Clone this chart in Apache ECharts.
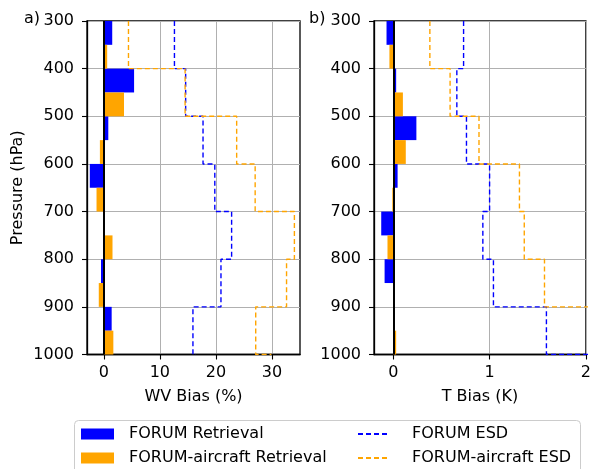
<!DOCTYPE html>
<html>
<head>
<meta charset="utf-8">
<script src="https://cdn.jsdelivr.net/npm/echarts@6/dist/echarts.min.js"></script>
<style>
html,body{margin:0;padding:0;background:#fff;}
#chart{width:594px;height:469px;}
</style>
</head>
<body>
<div id="chart"></div>
<script>
// Pressure levels (hPa): layer boundaries
const levels = [300, 400, 500, 600, 700, 800, 900, 1000];
const pressureTicks = [300, 400, 500, 600, 700, 800, 900, 1000];

// Panel a) water vapour bias (%) per 100 hPa layer
const wvForumBias    = [1.5, 5.4, 0.8, -2.5, 0.0, -0.5, 1.4];
const wvAircraftBias = [0.6, 3.6, -0.7, -1.3, 1.55, -0.9, 1.7];
const wvForumESD     = [12.6, 14.6, 17.7, 19.8, 22.8, 20.9, 15.9];
const wvForumESDBottom = 16.4;
const wvAircraftESD  = [4.4, 14.5, 23.7, 27.0, 34.0, 32.6, 27.1];
const wvAircraftESDBottom = 29.9;
const wvTicks = [0, 10, 20, 30];

// Panel b) temperature bias (K) per 100 hPa layer
const tForumBias    = [-0.07, 0.03, 0.24, 0.045, -0.125, -0.09, 0.0];
const tAircraftBias = [-0.04, 0.10, 0.13, -0.01, -0.06, 0.0, 0.03];
const tForumESD     = [0.73, 0.66, 0.76, 1.00, 0.93, 1.04, 1.59];
const tForumESDBottom = 2.1;
const tAircraftESD  = [0.38, 0.59, 0.89, 1.31, 1.36, 1.57, 2.2];
const tAircraftESDBottom = 2.2;
const tTicks = [0, 1, 2];

const FONT = 'DejaVu Sans';
const BLUE = '#0000ff';
const ORANGE = '#ffa500';

function barData(vals, upper) {
  return vals.map((v, i) => {
    const top = levels[i], bot = levels[i + 1], mid = (top + bot) / 2;
    return upper ? [v, top, mid] : [v, mid, bot];
  });
}
function stepData(vals, bottomVal) {
  const pts = [];
  vals.forEach((v, i) => { pts.push([v, levels[i]]); pts.push([v, levels[i + 1]]); });
  pts.push([bottomVal, levels[levels.length - 1]]);
  return pts;
}
function renderBar(params, api) {
  const v = api.value(0), p1 = api.value(1), p2 = api.value(2);
  const a = api.coord([0, p1]);
  const b = api.coord([v, p2]);
  const cs = params.coordSys;
  const shape = echarts.graphic.clipRectByRect({
    x: Math.min(a[0], b[0]), y: Math.min(a[1], b[1]),
    width: Math.abs(b[0] - a[0]), height: Math.abs(b[1] - a[1])
  }, {x: cs.x, y: cs.y, width: cs.width, height: cs.height});
  return shape && { type: 'rect', shape: shape, style: api.style() };
}

function xAxisCfg(idx, min, max, ticks, name) {
  return {
    type: 'value', gridIndex: idx, min: min, max: max,
    name: name, nameLocation: 'middle', nameGap: 34,
    nameTextStyle: {fontFamily: FONT, fontSize: 16, color: '#000'},
    axisLine: {show: true, onZero: false, lineStyle: {color: '#000', width: 1.3}},
    axisTick: {show: true, length: 5, customValues: ticks, lineStyle: {color: '#000', width: 1.1}},
    axisLabel: {customValues: ticks, margin: 10, fontFamily: FONT, fontSize: 16, color: '#000'},
    splitLine: {show: true, lineStyle: {color: '#b0b0b0', width: 1}}
  };
}
function yAxisCfg(idx, withName) {
  return {
    type: 'value', gridIndex: idx, min: 300, max: 1000, interval: 100, inverse: true,
    name: withName ? 'Pressure (hPa)' : '', nameLocation: 'middle', nameGap: 61,
    nameTextStyle: {fontFamily: FONT, fontSize: 16, color: '#000'},
    axisLine: {show: true, onZero: false, lineStyle: {color: '#000', width: 1.3}},
    axisTick: {show: true, length: 5, lineStyle: {color: '#000', width: 1.1}},
    axisLabel: {margin: 13, fontFamily: FONT, fontSize: 16, color: '#000',
      formatter: v => pressureTicks.includes(v) ? String(v) : ''},
    splitLine: {show: true, lineStyle: {color: '#b0b0b0', width: 1}}
  };
}
function barSeries(name, color, data, idx, withZero) {
  const s = {
    type: 'custom', name: name, xAxisIndex: idx, yAxisIndex: idx,
    renderItem: renderBar, itemStyle: {color: color},
    encode: {x: 0, y: [1, 2]}, data: data, z: 3, silent: true
  };
  if (withZero) {
    s.markLine = {
      silent: true, symbol: 'none', animation: false,
      label: {show: false},
      lineStyle: {color: '#000', width: 2, type: 'solid'},
      data: [{xAxis: 0}], z: 10
    };
  }
  return s;
}
function lineSeries(name, color, data, idx) {
  return {
    type: 'line', name: name, xAxisIndex: idx, yAxisIndex: idx,
    data: data, symbol: 'none', showSymbol: false, z: 5,
    lineStyle: {color: color, width: 1.4, type: [5, 3]},
    itemStyle: {color: color}, clip: true, silent: true
  };
}

const chart = echarts.init(document.getElementById('chart'), null, {renderer: 'canvas'});
chart.setOption({
  animation: false,
  backgroundColor: '#fff',
  title: [
    {text: 'a)', left: 19, top: 6, textStyle: {fontFamily: FONT, fontSize: 16, fontWeight: 'normal', color: '#000'}},
    {text: 'b)', left: 304, top: 6, textStyle: {fontFamily: FONT, fontSize: 16, fontWeight: 'normal', color: '#000'}}
  ],
  grid: [
    {left: 87, right: 294, top: 21, bottom: 114.5, show: true, borderColor: '#000', borderWidth: 1.3, containLabel: false},
    {left: 374, right: 6, top: 21, bottom: 114.5, show: true, borderColor: '#000', borderWidth: 1.3, containLabel: false}
  ],
  xAxis: [
    xAxisCfg(0, -3, 35, wvTicks, 'WV Bias (%)'),
    xAxisCfg(1, -0.2, 2, tTicks, 'T Bias (K)')
  ],
  yAxis: [yAxisCfg(0, true), yAxisCfg(1, false)],
  graphic: [{
    type: 'rect', left: 74, top: 420, z: 0,
    shape: {width: 506, height: 60, r: 4},
    style: {fill: '#fff', stroke: '#cccccc', lineWidth: 1}
  }],
  legend: [
    {
      orient: 'vertical', left: 81, top: 426, padding: 0, itemGap: 8,
      itemWidth: 33, itemHeight: 11, z: 5,
      textStyle: {fontFamily: FONT, fontSize: 16, color: '#000', lineHeight: 16, padding: [0, 0, 0, 10]},
      data: [{name: 'FORUM Retrieval', icon: 'rect'}, {name: 'FORUM-aircraft Retrieval', icon: 'rect'}],
      selectedMode: false
    },
    {
      orient: 'vertical', left: 357, top: 426, padding: 0, itemGap: 8,
      itemWidth: 32, itemHeight: 11, z: 5,
      itemStyle: {opacity: 0},
      textStyle: {fontFamily: FONT, fontSize: 16, color: '#000', lineHeight: 16, padding: [0, 0, 0, 17]},
      data: ['FORUM ESD', 'FORUM-aircraft ESD'],
      selectedMode: false
    }
  ],
  series: [
    barSeries('FORUM Retrieval', BLUE, barData(wvForumBias, true), 0, false),
    barSeries('FORUM-aircraft Retrieval', ORANGE, barData(wvAircraftBias, false), 0, true),
    lineSeries('FORUM ESD', BLUE, stepData(wvForumESD, wvForumESDBottom), 0),
    lineSeries('FORUM-aircraft ESD', ORANGE, stepData(wvAircraftESD, wvAircraftESDBottom), 0),
    barSeries('FORUM Retrieval', BLUE, barData(tForumBias, true), 1, false),
    barSeries('FORUM-aircraft Retrieval', ORANGE, barData(tAircraftBias, false), 1, true),
    lineSeries('FORUM ESD', BLUE, stepData(tForumESD, tForumESDBottom), 1),
    lineSeries('FORUM-aircraft ESD', ORANGE, stepData(tAircraftESD, tAircraftESDBottom), 1)
  ]
});
</script>
</body>
</html>
